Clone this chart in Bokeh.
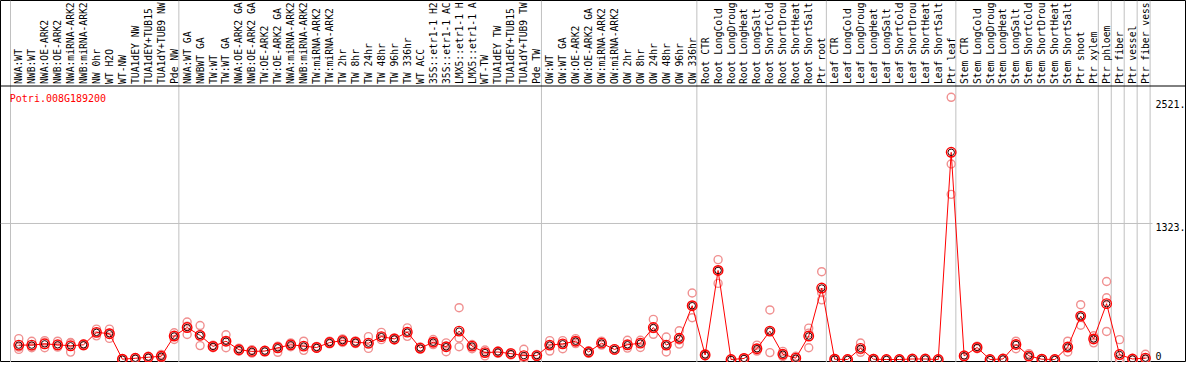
import math
from bokeh.plotting import figure
from bokeh.models import Range1d, Span
from bokeh.core.properties import value
from bokeh.embed import file_html
from bokeh.resources import INLINE

gene = "Potri.008G189200"

# category labels as they are shown (truncated to 14 characters in the reference)
categories = [
    "NWA:WT", "NWB:WT", "NWA:OE-ARK2", "NWB:OE-ARK2", "NWA:miRNA-ARK2", "NWB:miRNA-ARK2",
    "NW 0hr", "WT H2O", "WT-NW", "TUA1dEY NW", "TUA1dEY+TUB15", "TUA1dY+TUB9 NW", "Pde NW",
    "NWA:WT GA", "NWBWT GA", "TW:WT", "TW:WT GA", "NWA:OE-ARK2 GA", "NWB:OE-ARK2 GA",
    "TW:OE-ARK2", "TW:OE-ARK2 GA", "NWA:miRNA-ARK2", "NWB:miRNA-ARK2", "TW:miRNA-ARK2",
    "TW:miRNA-ARK2", "TW 2hr", "TW 8hr", "TW 24hr", "TW 48hr", "TW 96hr", "TW 336hr", "WT ACC",
    "35S::etr1-1 H2", "35S::etr1-1 AC", "LMX5::etr1-1 H", "LMX5::etr1-1 A", "WT-TW",
    "TUA1dEY TW", "TUA1dEY+TUB15", "TUA1dY+TUB9 TW", "Pde TW",
    "OW:WT", "OW:WT GA", "OW:OE-ARK2", "OW:OE-ARK2 GA", "OW:miRNA-ARK2", "OW:miRNA-ARK2",
    "OW 2hr", "OW 8hr", "OW 24hr", "OW 48hr", "OW 96hr", "OW 336hr",
    "Root CTR", "Root LongCold", "Root LongDroug", "Root LongHeat", "Root LongSalt",
    "Root ShortCold", "Root ShortDrou", "Root ShortHeat", "Root ShortSalt", "Ptr root",
    "Leaf CTR", "Leaf LongCold", "Leaf LongDroug", "Leaf LongHeat", "Leaf LongSalt",
    "Leaf ShortCold", "Leaf ShortDrou", "Leaf ShortHeat", "Leaf ShortSalt", "Ptr leaf",
    "Stem CTR", "Stem LongCold", "Stem LongDroug", "Stem LongHeat", "Stem LongSalt",
    "Stem ShortCold", "Stem ShortDrou", "Stem ShortHeat", "Stem ShortSalt", "Ptr shoot",
    "Ptr xylem", "Ptr phloem", "Ptr fiber", "Ptr vessel", "Ptr fiber vess",
]

group_sizes = [13, 28, 12, 10, 10, 11, 1, 1, 1, 1]

means = [
    140, 140, 152, 143, 133, 143, 264, 251, 3, 12, 22, 31, 228,
    311, 235, 127, 178, 95, 79, 82, 114, 143, 130, 117, 165, 184, 168, 159, 222, 200, 266,
    111, 168, 124, 276, 130, 67, 73, 57, 38, 38,
    140, 152, 178, 73, 159, 98, 143, 159, 311, 140, 206, 523,
    44, 866, 0, 10, 105, 276, 51, 13, 228, 695,
    3, 0, 108, 3, 0, 0, 5, 5, 0, 2015,
    35, 117, 0, 5, 146, 35, 3, 0, 121, 422, 200,
    543, 48, 5, 13,
]

rep_a = [
    203, 178, 184, 178, 165, 152, 295, 295, 0, 5, 12, 10, 260,
    365, 330, 140, 241, 110, 95, 87, 130, 162, 178, 127, 178, 200, 181, 222, 264, 210, 308,
    121, 194, 162, 504, 146, 92, 82, 67, 100, 48,
    184, 184, 203, 85, 178, 105, 187, 187, 390, 219, 280, 647,
    57, 971, 0, 16, 140, 482, 79, 32, 305, 854,
    10, 5, 160, 10, 0, 3, 8, 8, 3, 2550,
    44, 130, 3, 10, 178, 57, 8, 3, 178, 533, 231,
    759, 193, 10, 51,
]

rep_b = [
    121, 130, 168, 130, 160, 143, 264, 255, 3, 12, 22, 31, 228,
    325, 240, 127, 178, 95, 79, 82, 114, 143, 130, 117, 165, 184, 168, 150, 222, 200, 266,
    111, 168, 124, 209, 130, 67, 73, 57, 12, 38,
    140, 152, 178, 73, 159, 98, 143, 159, 300, 140, 190, 523,
    44, 866, 0, 10, 105, 276, 51, 13, 257, 650,
    3, 0, 95, 3, 0, 0, 5, 5, 0, 1901,
    35, 117, 0, 5, 146, 35, 3, 0, 121, 422, 200,
    600, 5, 5, 13,
]

rep_c = [
    98, 114, 114, 120, 72, 133, 230, 205, 6, 18, 32, 50, 195,
    243, 135, 114, 115, 80, 62, 77, 70, 124, 89, 108, 152, 165, 155, 108, 193, 190, 225,
    100, 145, 76, 124, 105, 35, 60, 44, 2, 28,
    82, 105, 155, 60, 140, 90, 111, 117, 245, 73, 150, 406,
    36, 740, 2, 4, 82, 67, 29, 0, 114, 580,
    0, 0, 70, 0, 0, 0, 2, 2, 0, 1606,
    25, 105, 0, 0, 105, 20, 0, 0, 73, 333, 162,
    273, 0, 0, 0,
]

tick_values = [0, 1323, 2521]
tick_labels = ["0", "1323.", "2521."]

# ---- layout helpers (screen geometry, figure-local pixels) ----
W, H = 1186, 362
CAT_PX = 12.95          # pixels per category
CAT0_PX = 10            # x pixel of the first group separator
PX_PER_UNIT = 0.10282   # pixels per expression unit
ZERO_PX = 359           # y pixel of value 0


def vx(px):
    return (px - CAT0_PX) / CAT_PX


def vy(py):
    return (ZERO_PX - py) / PX_PER_UNIT


FONT = value("DejaVu Sans Mono")
n = len(categories)

p = figure(width=W, height=H,
           x_range=Range1d(vx(0), vx(W)),
           y_range=Range1d(vy(H), vy(0)),
           output_backend="svg", toolbar_location=None,
           x_axis_location=None, y_axis_location=None,
           min_border=0)
p.grid.visible = False
p.outline_line_color = "black"
p.outline_line_width = 1
p.background_fill_color = "white"
p.border_fill_color = "white"

# group separators (vertical grey lines across whole height)
bounds = [0]
for g in group_sizes:
    bounds.append(bounds[-1] + g)
p.segment(x0=bounds, y0=[vy(H)] * len(bounds), x1=bounds, y1=[vy(0)] * len(bounds),
          line_color="#c0c0c0", line_width=1)

# horizontal grid line at the middle tick
p.segment(x0=[vx(0)], y0=[tick_values[1]], x1=[vx(1152)], y1=[tick_values[1]],
          line_color="#c0c0c0", line_width=1)

# header separator
p.add_layout(Span(location=vy(85.5), dimension="width", line_color="black", line_width=1))

x_pts = [i + 0.64 for i in range(n)]

# replicate points
p.scatter(x=x_pts * 3, y=rep_a + rep_b + rep_c, marker="circle", size=8,
          fill_color=None, line_color="#f09090", line_width=1.4)

# mean line and markers
p.line(x=x_pts, y=means, line_color="#ff0000", line_width=1)
p.scatter(x=x_pts, y=means, marker="circle", size=9.5,
          fill_color=None, line_color="#ff0000", line_width=1.4)
p.scatter(x=x_pts, y=means, marker="circle", size=6.5,
          fill_color=None, line_color="#300000", line_width=1)

# category labels (vertical)
p.text(x=x_pts, y=[vy(83.5)] * n, text=categories, angle=math.pi / 2,
       text_align="left", text_baseline="middle",
       text_font=FONT, text_font_size="9.7px", text_color="black")

# gene name
p.text(x=[vx(9.3)], y=[vy(92)], text=[gene], text_align="left", text_baseline="top",
       text_font=FONT, text_font_size="10px", text_color="#ff0000")

# value labels on the right
p.text(x=[vx(1155)], y=[tick_values[0]], text=[tick_labels[0]], text_align="left",
       text_baseline="bottom", text_font=FONT, text_font_size="10px", text_color="black")
p.text(x=[vx(1155)] * 2, y=tick_values[1:], text=tick_labels[1:], text_align="left",
       text_baseline="top", text_font=FONT, text_font_size="10px", text_color="black")

open("out.html", "w").write(file_html(p, INLINE))
